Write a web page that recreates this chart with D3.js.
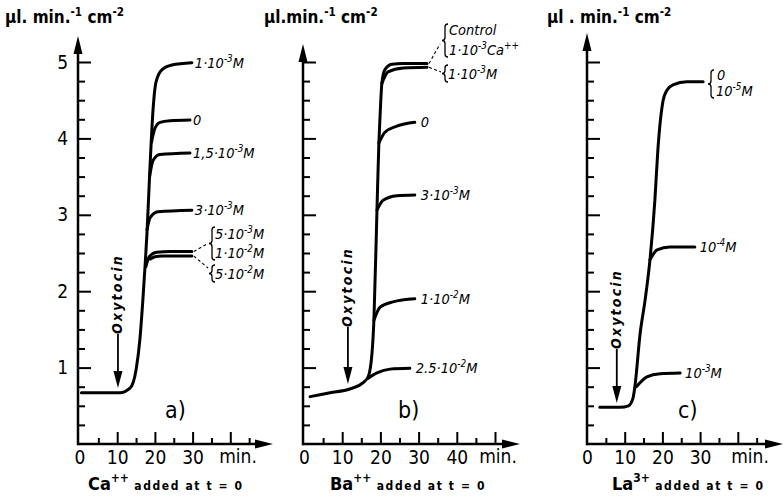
<!DOCTYPE html>
<html><head><meta charset="utf-8">
<script src="https://cdn.jsdelivr.net/npm/d3@7/dist/d3.min.js"></script>
<style>
body{margin:0;background:#fff}
svg{display:block}
text{font-family:"DejaVu Sans Condensed","Liberation Sans Narrow","DejaVu Sans",sans-serif;fill:#000}
.conc{font-style:italic}
.oxy{font-style:italic;font-weight:bold;letter-spacing:2.2px}
.unit{font-weight:bold}
.sub{font-weight:bold}
</style>
</head><body>
<svg id="chart" width="784" height="498"></svg>
<script>
// ---------------- DATA ----------------
const minorMinuteTicks = [5,10,15,20,25,30,35,40,45,50];
const majorMinuteTicks = [10,20,30,40,50];
const yTickLabels = [1,2,3,4,5];
const panelLetters = ["a)","b)","c)"];
const ionLabels = ["Ca^{++}","Ba^{++}","La^{3+}"];
const unitLabels = ["µl. min.^{-1} cm^{-2}","µl.min.^{-1} cm^{-2}","µl . min.^{-1} cm^{-2}"];
const timeLabelsA = [0,10,20,30];
const timeLabelsB = [0,10,20,30,40];
const timeLabelsC = [0,10,20,30];

// Panel a: Ca++ (t in min, rate in µl.min-1.cm-2)
const ca_1e3 = [[0.5,0.67],[10.7,0.67],[13.4,0.73],[15,0.97],[16,1.36],[16.8,1.88],[17.4,2.34],[17.9,2.76],[18.7,3.63],[19.5,4.37],[20.3,4.74],[21.9,4.9],[24.5,4.96],[29.8,4.99]];
const ca_0 = [[19.1,3.95],[20,4.13],[21.4,4.21],[24,4.23],[29.3,4.24]];
const ca_15e3 = [[18.6,3.5],[19.5,3.71],[21.3,3.79],[29.3,3.81]];
const ca_3e3 = [[17.9,2.8],[18.7,2.96],[20.8,3.04],[29.8,3.06]];
const ca_5e3 = [[17.6,2.32],[18.5,2.45],[20.5,2.51],[24,2.52],[29.8,2.52]];
const ca_5e2 = [[18.8,2.42],[20,2.45],[22,2.46],[29.8,2.46]];

// Panel b: Ba++
const ba_control = [[1.6,0.62],[6.8,0.67],[12,0.72],[15.4,0.8],[16.8,0.88],[17.8,1.19],[18.3,1.62],[19.1,3.06],[19.6,3.94],[19.9,4.28],[20.4,4.73],[21.2,4.9],[23,4.97],[25.9,4.98],[32.2,4.98]];
const ba_1e3 = [[20.4,4.72],[22,4.87],[26,4.92],[32.2,4.93]];
const ba_0 = [[19.6,3.94],[21.2,4.08],[24.3,4.16],[29,4.21]];
const ba_3e3 = [[19.1,3.06],[20.7,3.19],[24.3,3.25],[29,3.26]];
const ba_1e2 = [[18.3,1.62],[19.9,1.79],[23.3,1.86],[29,1.9]];
const ba_25e2 = [[16.8,0.86],[19.1,0.93],[22.5,0.98],[27.7,0.99]];

// Panel c: La3+
const la_0 = [[3.4,0.48],[8.8,0.48],[11,0.5],[12.2,0.6],[12.7,0.75],[14.1,1.45],[15.4,1.88],[16.7,2.41],[18,3.19],[18.8,3.85],[20.2,4.5],[21.2,4.63],[22.8,4.7],[26.5,4.74],[30.8,4.74]];
const la_1e4 = [[16.7,2.41],[18.6,2.54],[22,2.58],[28.6,2.58]];
const la_1e3 = [[13.1,0.75],[15.9,0.88],[19.4,0.92],[24.7,0.93]];

const caEndLabels = ["1·10^{-3}M","0","1,5·10^{-3}M","3·10^{-3}M"];
const caBracketLabels = ["5·10^{-3}M","1·10^{-2}M","5·10^{-2}M"];
const baEndLabels = ["0","3·10^{-3}M","1·10^{-2}M","2.5·10^{-2}M"];
const baBracketLabels = ["Control","1·10^{-3}Ca^{++}","1·10^{-3}M"];
const laEndLabels = ["10^{-4}M","10^{-3}M"];
const laBracketLabels = ["0","10^{-5}M"];

// ---------------- LAYOUT ----------------
const svg = d3.select("#chart");
const yScale = d3.scaleLinear().domain([0,5]).range([444,62]);
const panels = [
  {x0:79.5, ppm:3.77, axisX:78, xTip:273, yTip:36, tmax:45, labels:timeLabelsA, minX:238, ylab:5, subX:88, letterX:165, oxyT:10.2, oxyTextY:294, oxyTop:334, oxyBot:388},
  {x0:304, ppm:3.82, axisX:303, xTip:520, yTip:44, tmax:50, labels:timeLabelsB, minX:498, ylab:264, subX:330, letterX:398, oxyT:11.5, oxyTextY:287, oxyTop:327, oxyBot:384},
  {x0:587, ppm:3.77, axisX:587, xTip:783, yTip:33, tmax:45, labels:timeLabelsC, minX:750, ylab:547, subX:612, letterX:678, oxyT:7.9, oxyTextY:309, oxyTop:349, oxyBot:403}
];
panels.forEach(p => { p.x = d3.scaleLinear().domain([0,50]).range([p.x0, p.x0 + 50*p.ppm]); });

function rich(sel, x, y, str, size, cls) {
  const t = sel.append("text").attr("x", x).attr("y", y).attr("class", cls || null).style("font-size", size + "px");
  const parts = str.split(/(\^\{[^}]*\})/).filter(s => s.length);
  let up = false;
  const sh = size * 0.42;
  parts.forEach(p => {
    if (p.startsWith("^{")) {
      t.append("tspan").text(p.slice(2, -1)).style("font-size", (size * 0.68) + "px").attr("dy", -sh);
      up = true;
    } else {
      const ts = t.append("tspan").text(p);
      if (up) { ts.attr("dy", sh); up = false; }
    }
  });
  return t;
}

const line = d3.line().curve(d3.curveMonotoneX);
function drawCurve(p, data) {
  line.x(d => p.x(d[0])).y(d => yScale(d[1]));
  svg.append("path").attr("d", line(data)).attr("fill", "none").attr("stroke", "#000")
     .attr("stroke-width", 3).attr("stroke-linecap", "round").attr("stroke-linejoin", "round");
}
function brace(x, y1, y2) {
  const m = (y1 + y2) / 2, r = 3;
  const d = `M${x+r},${y1} Q${x},${y1} ${x},${y1+r} L${x},${m-r} Q${x},${m} ${x-r},${m} Q${x},${m} ${x},${m+r} L${x},${y2-r} Q${x},${y2} ${x+r},${y2}`;
  svg.append("path").attr("d", d).attr("fill", "none").attr("stroke", "#000").attr("stroke-width", 1.3);
}
function leader(x1, y1, x2, y2) {
  svg.append("line").attr("x1", x1).attr("y1", y1).attr("x2", x2).attr("y2", y2)
    .attr("stroke", "#000").attr("stroke-width", 1.1).attr("stroke-dasharray", "3,2.5");
}

panels.forEach((p, i) => {
  const base = yScale(0);
  // x axis ticks
  const minor = minorMinuteTicks.filter(v => v <= p.tmax && v % 10 !== 0);
  const major = majorMinuteTicks.filter(v => v <= p.tmax);
  const gx1 = svg.append("g").attr("transform", `translate(0,${base})`)
    .call(d3.axisBottom(p.x).tickValues(minor).tickSize(-6).tickFormat(""));
  const gx2 = svg.append("g").attr("transform", `translate(0,${base})`)
    .call(d3.axisBottom(p.x).tickValues(major).tickSize(-12).tickFormat(""));
  [gx1, gx2].forEach(g => { g.select(".domain").remove(); g.selectAll("line").attr("stroke", "#000").attr("stroke-width", 2); });
  // x tick labels
  const gl = svg.append("g").attr("transform", `translate(0,${base})`)
    .call(d3.axisBottom(p.x).tickValues(p.labels).tickSize(0).tickPadding(4).tickFormat(d3.format("d")));
  gl.select(".domain").remove();
  gl.selectAll("text").style("font-size", "19px").style("font-family", null).attr("dy", "0.85em");
  svg.append("text").attr("x", p.minX).attr("y", 463).attr("text-anchor", "middle").style("font-size", "19px").text("min.");

  // y axis ticks
  const yMinor = d3.range(1, 20).map(k => k * 0.25).filter(v => v % 1 !== 0);
  const gy1 = svg.append("g").attr("transform", `translate(${p.axisX},0)`)
    .call(d3.axisRight(yScale).tickValues(yMinor).tickSize(7).tickFormat(""));
  const gy2 = svg.append("g").attr("transform", `translate(${p.axisX},0)`)
    .call(d3.axisRight(yScale).tickValues(yTickLabels).tickSize(13).tickFormat(""));
  [gy1, gy2].forEach(g => { g.select(".domain").remove(); g.selectAll("line").attr("stroke", "#000").attr("stroke-width", 2); });
  if (i === 0) {
    const gyl = svg.append("g").attr("transform", `translate(${p.axisX},0)`)
      .call(d3.axisLeft(yScale).tickValues(yTickLabels).tickSize(0).tickPadding(10).tickFormat(d3.format("d")));
    gyl.select(".domain").remove();
    gyl.selectAll("text").style("font-size", "19px").style("font-family", null);
  }
  // axis lines + arrows
  svg.append("line").attr("x1", p.axisX).attr("y1", base).attr("x2", p.xTip - 12).attr("y2", base).attr("stroke", "#000").attr("stroke-width", 2.5);
  svg.append("path").attr("d", `M${p.xTip},${base} L${p.xTip-18},${base-4.5} L${p.xTip-18},${base+4.5} Z`).attr("fill", "#000");
  svg.append("line").attr("x1", p.axisX).attr("y1", base + 1.2).attr("x2", p.axisX).attr("y2", p.yTip + 12).attr("stroke", "#000").attr("stroke-width", 2.5);
  svg.append("path").attr("d", `M${p.axisX},${p.yTip} L${p.axisX-4.5},${p.yTip+18} L${p.axisX+4.5},${p.yTip+18} Z`).attr("fill", "#000");

  // y unit label
  rich(svg, p.ylab, 23, unitLabels[i], 17, "unit");
  // subtitle
  const st = svg.append("text").attr("x", p.subX).attr("y", 490).attr("class", "sub");
  const ion = ionLabels[i].split("^{");
  st.append("tspan").text(ion[0]).style("font-size", "18px");
  st.append("tspan").text(ion[1].replace("}", "")).style("font-size", "12px").attr("dy", -8);
  st.append("tspan").text(" added  at  t = 0").style("font-size", "12px").style("letter-spacing", "1.6px").attr("dy", 8);
  // panel letter
  svg.append("text").attr("x", p.letterX).attr("y", 418).style("font-size", "23px").text(panelLetters[i]);
  // oxytocin arrow
  const ox = p.x(p.oxyT);
  svg.append("text").attr("class", "oxy").attr("transform", `translate(${ox+4},${p.oxyTextY}) rotate(-90)`)
     .attr("text-anchor", "middle").style("font-size", "14px").text("Oxytocin");
  svg.append("line").attr("x1", ox).attr("y1", p.oxyTop).attr("x2", ox).attr("y2", p.oxyBot - 12).attr("stroke", "#000").attr("stroke-width", 1.8);
  svg.append("path").attr("d", `M${ox},${p.oxyBot} L${ox-4.5},${p.oxyBot-17} L${ox+4.5},${p.oxyBot-17} Z`).attr("fill", "#000");
});

// ---------------- CURVES ----------------
const [pa, pb, pc] = panels;
[ca_1e3, ca_0, ca_15e3, ca_3e3, ca_5e3, ca_5e2].forEach(d => drawCurve(pa, d));
[ba_control, ba_1e3, ba_0, ba_3e3, ba_1e2, ba_25e2].forEach(d => drawCurve(pb, d));
[la_0, la_1e4, la_1e3].forEach(d => drawCurve(pc, d));

// ---------------- LABELS ----------------
const LS = 14.5;
function endLabel(p, data, txt, dx) {
  const e = data[data.length - 1];
  rich(svg, p.x(e[0]) + dx, yScale(e[1]) + 5, txt, LS, "conc");
}
[ca_1e3, ca_0, ca_15e3, ca_3e3].forEach((d, k) => endLabel(pa, d, caEndLabels[k], 3));
[ba_0, ba_3e3, ba_1e2, ba_25e2].forEach((d, k) => endLabel(pb, d, baEndLabels[k], 6));
[la_1e4, la_1e3].forEach((d, k) => endLabel(pc, d, laEndLabels[k], 5));

// panel a brackets
{
  const e1 = ca_5e3[ca_5e3.length - 1], e2 = ca_5e2[ca_5e2.length - 1];
  leader(pa.x(e1[0]) + 2, yScale(e1[1]), 207, 244);
  leader(pa.x(e2[0]) + 2, yScale(e2[1]), 208, 268);
  brace(212, 227, 260);
  rich(svg, 215, 239, caBracketLabels[0], LS, "conc");
  rich(svg, 215, 258, caBracketLabels[1], LS, "conc");
  brace(212, 265, 282);
  rich(svg, 215, 279, caBracketLabels[2], LS, "conc");
}
// panel b brackets
{
  const e1 = ba_control[ba_control.length - 1], e2 = ba_1e3[ba_1e3.length - 1];
  leader(pb.x(e1[0]) + 2, yScale(e1[1]), 440, 44);
  leader(pb.x(e2[0]) + 2, yScale(e2[1]), 441, 72);
  brace(445, 24, 57);
  rich(svg, 449, 35, baBracketLabels[0], LS, "conc");
  rich(svg, 449, 55, baBracketLabels[1], LS, "conc");
  brace(445, 65, 82);
  rich(svg, 448, 79, baBracketLabels[2], LS, "conc");
}
// panel c bracket
{
  brace(711, 70, 98);
  rich(svg, 717, 80, laBracketLabels[0], LS, "conc");
  rich(svg, 716, 96, laBracketLabels[1], LS, "conc");
}
</script>
</body></html>
